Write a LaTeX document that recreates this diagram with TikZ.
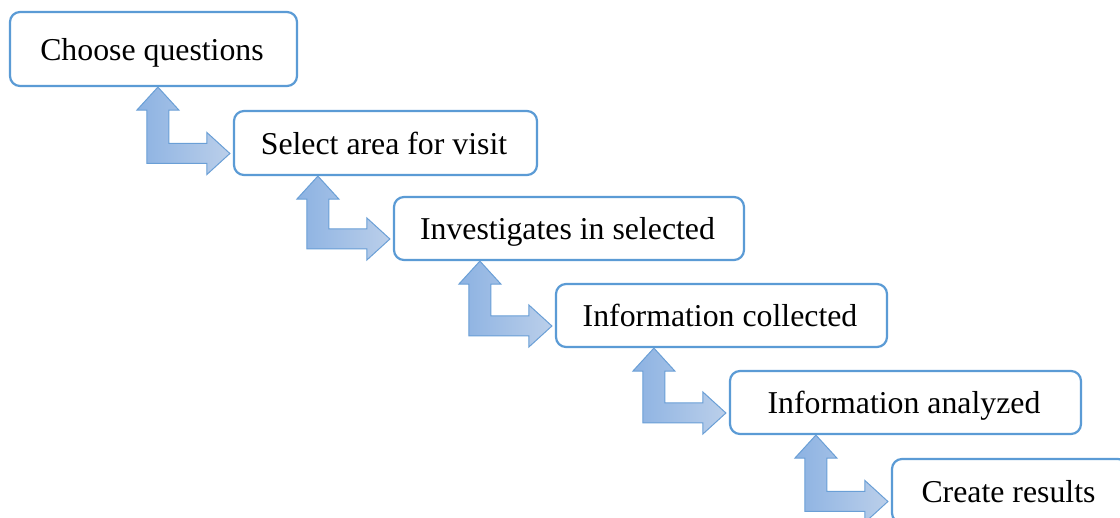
\documentclass[tikz,border=0pt]{standalone}
\usepackage{fontspec}
\setmainfont{Liberation Serif}
\usetikzlibrary{calc}
\definecolor{boxline}{HTML}{5B9BD5}
\definecolor{arrline}{HTML}{6A9FD6}
\definecolor{arrleft}{HTML}{8CB2E2}
\definecolor{arrright}{HTML}{BBCFEA}
\tikzset{
  stepbox/.style={draw=boxline, line width=2.2pt, rounded corners=10pt, fill=white,
    inner sep=0pt, text height=30pt, text depth=7pt,
    font=\fontsize{31.8}{36}\selectfont,
    execute at begin node={\hspace*{-3pt}}},
  bentarrow/.style={draw=arrline, line width=1pt, left color=arrleft, right color=arrright, line join=miter}
}
\newcommand{\bentarr}[2]{%
  \path[bentarrow] let \p1=(#1.south), \p2=(#2.west),
    \n1={\x2-75pt}, \n2={\y1}, \n3={\x2-3pt}, \n4={\y2-10.5pt} in
    (\n1,\n2) -- (\n1+21pt,\n2-23pt) -- (\n1+11pt,\n2-23pt) -- (\n1+11pt,\n4+10pt)
    -- (\n3-23pt,\n4+10pt) -- (\n3-23pt,\n4+21pt) -- (\n3,\n4) -- (\n3-23pt,\n4-21pt)
    -- (\n3-23pt,\n4-10pt) -- (\n1-11pt,\n4-10pt) -- (\n1-11pt,\n2-23pt) -- (\n1-21pt,\n2-23pt) -- cycle;}
\begin{document}
\begin{tikzpicture}[x=1pt,y=-1pt]
\useasboundingbox (0,0) rectangle (1120,518);
\clip (0,0) rectangle (1120,518);
\node[stepbox, minimum width=287pt, minimum height=74pt] (b1) at (153.5,49) {Choose questions};
\node[stepbox, minimum width=303pt, minimum height=64pt] (b2) at (385.5,143) {Select area for visit};
\node[stepbox, minimum width=350pt, minimum height=63pt] (b3) at (569,228.5) {Investigates in selected};
\node[stepbox, minimum width=331pt, minimum height=63pt] (b4) at (721.5,315.5) {Information collected};
\node[stepbox, minimum width=351pt, minimum height=63pt] (b5) at (905.5,402.5) {Information analyzed};
\node[stepbox, minimum width=236pt, minimum height=64pt] (b6) at (1010,491) {Create results};
\bentarr{b1}{b2}
\bentarr{b2}{b3}
\bentarr{b3}{b4}
\bentarr{b4}{b5}
\bentarr{b5}{b6}
\end{tikzpicture}
\end{document}
